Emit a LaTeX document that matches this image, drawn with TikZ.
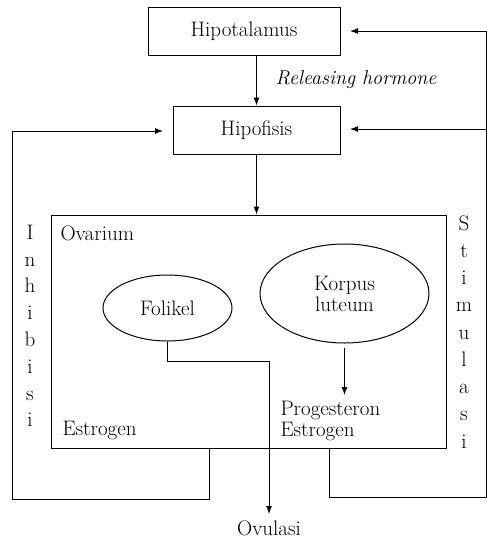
\documentclass[tikz,border=0pt]{standalone}
\usetikzlibrary{shapes.geometric,arrows.meta}
\begin{document}
\begin{tikzpicture}[x=1pt,y=-1pt,line width=1pt,
  box/.style={draw,inner sep=0pt,font=\fontsize{21}{24}\selectfont},
  oval/.style={draw,ellipse,inner sep=0pt,font=\fontsize{21}{24}\selectfont,align=center},
  txt/.style={inner sep=0pt,font=\fontsize{21}{24}\selectfont},
  arr/.style={-{Latex[length=8pt,width=6pt]}}]
\useasboundingbox (0,0) rectangle (487,541);
% boxes
\node[box,minimum width=192pt,minimum height=48pt] (hyp) at (244,31) {Hipotalamus};
\node[box,minimum width=167pt,minimum height=48pt] (pit) at (256.5,130) {Hipofisis};
\node[draw,inner sep=0pt,minimum width=395pt,minimum height=233pt] (ov) at (248.5,331.5) {};
\node[txt,anchor=west] (ovl) at (60,233) {Ovarium};
\node[oval,minimum width=129pt,minimum height=66pt] (fol) at (167.5,308) {Folikel};
\node[oval,minimum width=169pt,minimum height=99pt] (kor) at (344.5,293.5) {Korpus\\[-3pt]luteum};
\node[txt,anchor=west,align=left] (pe) at (280,421) {Progesteron\\[-3pt]Estrogen};
\node[txt,anchor=west] (es) at (62,430) {Estrogen};
\node[txt,anchor=base] (ovu) at (269,535.5) {Ovulasi};
\node[txt,font=\fontsize{20}{24}\selectfont\itshape] (rh) at (356,80) {Releasing hormone};
% letters
\foreach \c [count=\i from 0] in {I,n,h,i,b,i,s,i}
  \node[txt,anchor=base] (inh\i) at (30,239.3+26.8*\i) {\c};
\foreach \c [count=\i from 0] in {S,t,i,m,u,l,a,s,i}
  \node[txt,anchor=base] (sti\i) at (464,230+27.25*\i) {\c};
% coordinates
\coordinate (kend) at (344.5,395);
\coordinate (fk) at (269,361);
\coordinate (ovtop) at (269,514);
\coordinate (L0) at (209,448);
\coordinate (L1) at (12,499);
\coordinate (L2) at (163,131);
\coordinate (R0) at (329,448);
\coordinate (R1) at (486,497);
\coordinate (R2) at (350,31);
\coordinate (R3) at (486,129);
\coordinate (R4) at (350,129);
% connectors
\draw[arr] (hyp.south -| pit.north) -- (pit.north);
\draw[arr] (pit.south) -- (pit.south |- ov.north);
\draw[arr] ([yshift=-4pt]kor.south) -- (kend);
\draw[arr] (fol.south) |- (fk) -- (ovtop);
\draw[arr] (L0) |- (L1) |- (L2);
\draw[arr] (R0) |- (R1) |- (R2);
\draw[arr] (R3) -- (R4);
\end{tikzpicture}
\end{document}
